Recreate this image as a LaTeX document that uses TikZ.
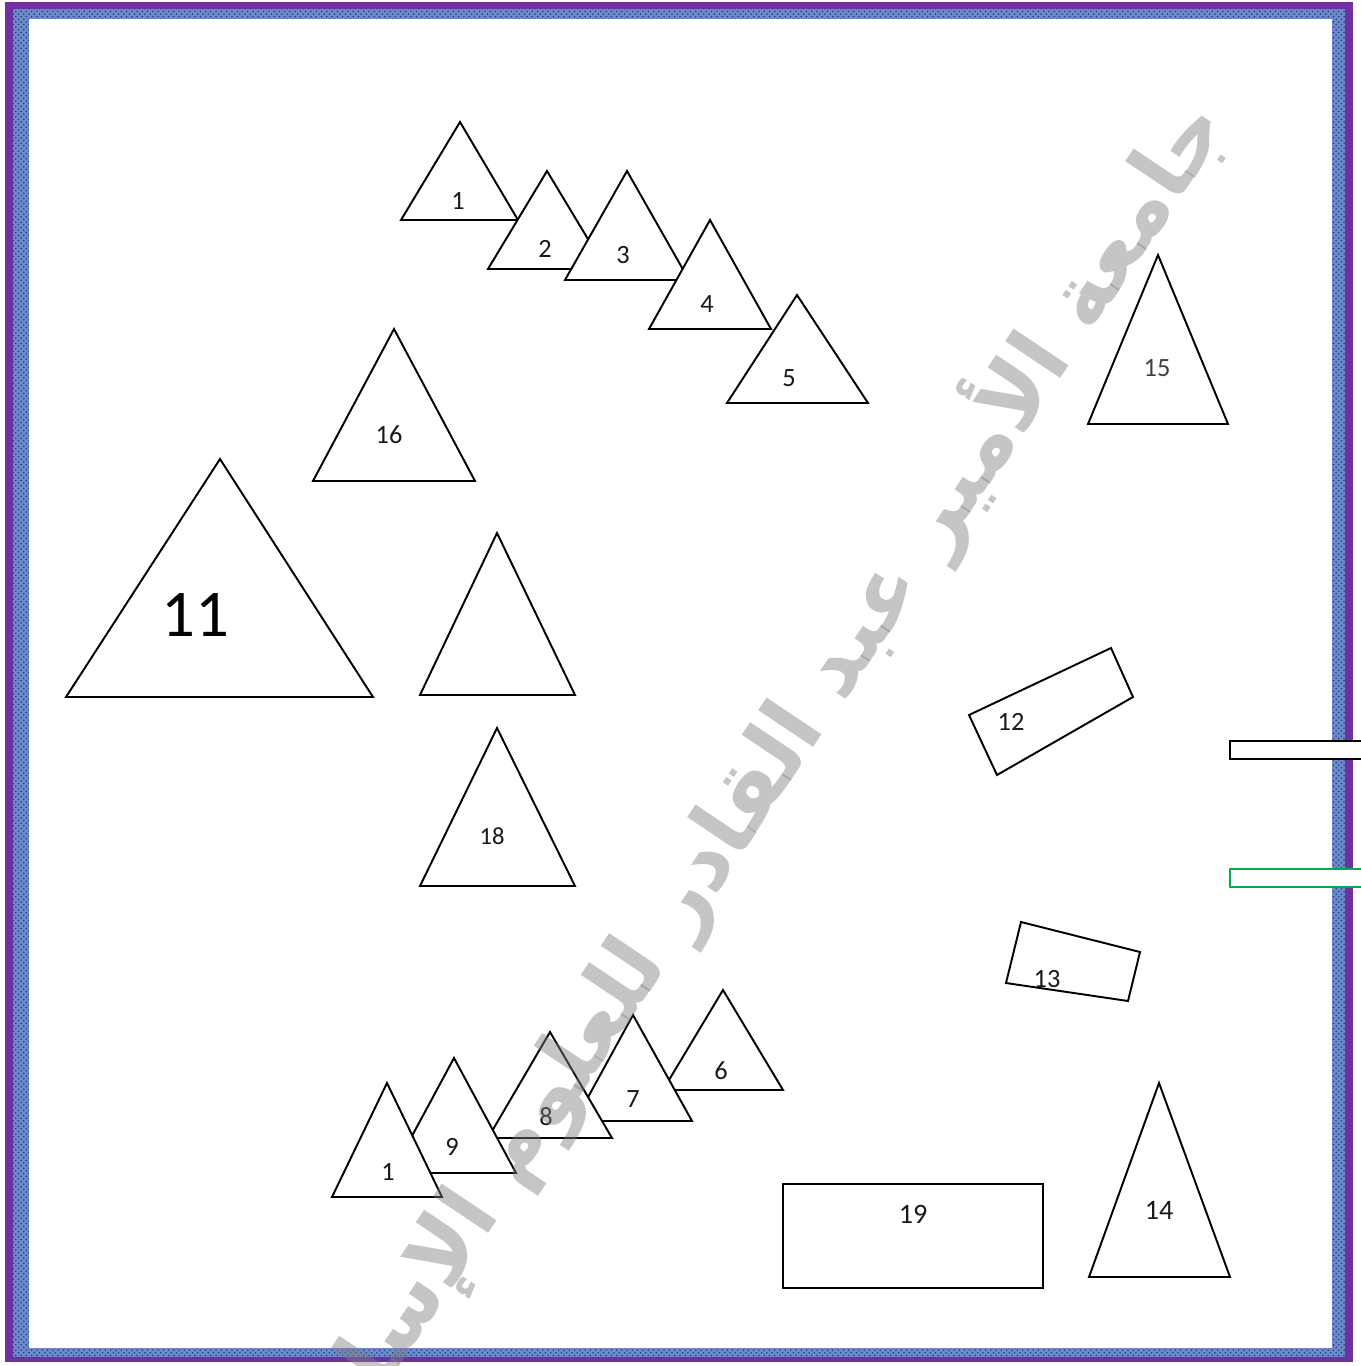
\documentclass[tikz,border=0pt]{standalone}
\usepackage{graphicx}
\usepackage{fontspec}
\setmainfont{Carlito}
\newfontfamily\arabicfont[Script=Arabic]{DejaVu Sans}
\TeXXeTstate=1
\usetikzlibrary{patterns}
\definecolor{framepurple}{RGB}{112,48,160}
\definecolor{frameblue}{RGB}{108,138,204}
\definecolor{framedark}{RGB}{36,58,125}
\definecolor{bargreen}{RGB}{0,176,80}
\tikzset{
  shp/.style={draw=black, fill=white, line width=1.1pt, line join=miter},
  lbl/.style={inner sep=0pt, font=\fontsize{15pt}{18pt}\selectfont, text=black!90},
  wmark/.style={inner sep=0pt, text=black!50, opacity=0.45}
}
\begin{document}
\begin{tikzpicture}[x=0.02cm,y=-0.02cm]
\useasboundingbox (0,0) rectangle (1360,1366);
% frame
\fill[framepurple] (5,2) rectangle (1353,1362);
\fill[frameblue] (13,9) rectangle (1345,1357);
\fill[pattern=crosshatch dots, pattern color=framedark] (13,9) rectangle (1345,1357);
\fill[white] (29,19) rectangle (1332,1348);

% top row triangles
\draw[shp] (460,122) -- (518,220) -- (401,220) -- cycle;
\node[lbl] (t1) at (458,201) {1};
\draw[shp] (547,171) -- (606,269) -- (488,269) -- cycle;
\node[lbl] (t2) at (545,249) {2};
\draw[shp] (627,171) -- (689,280) -- (565,280) -- cycle;
\node[lbl] (t3) at (623,255) {3};
\draw[shp] (710,220) -- (771,329) -- (649,329) -- cycle;
\node[lbl] (t4) at (707,304) {4};
\draw[shp] (797,295) -- (868,403) -- (727,403) -- cycle;
\node[lbl] (t5) at (789,378) {5};

% left triangles
\draw[shp] (394,329) -- (475,481) -- (313,481) -- cycle;
\node[lbl] (t16) at (389,435) {16};
\draw[shp] (220,459) -- (373,697) -- (66,697) -- cycle;
\node[lbl, font=\fontsize{38pt}{44pt}\selectfont, text=black] (t11) at (195,615) {11};
\draw[shp] (497,533) -- (575,695) -- (420,695) -- cycle;
\coordinate (t17) at (497,640);
\draw[shp] (497,728) -- (575,886) -- (420,886) -- cycle;
\node[lbl, font=\fontsize{14pt}{17pt}\selectfont] (t18) at (492,836) {18};

% right triangle 15
\draw[shp] (1158,255) -- (1228,424) -- (1088,424) -- cycle;
\node[lbl, text=black!75] (t15) at (1157,368) {15};

% rotated rectangles
\draw[shp] (969,715) -- (1111,648) -- (1133,697) -- (997,775) -- cycle;
\node[lbl] (r12) at (1011,722) {12};
\draw[shp] (1021,922) -- (1140,952) -- (1128,1001) -- (1006,983) -- cycle;
\node[lbl] (r13) at (1047,979) {13};

% bars at the right edge
\draw[shp] (1230,741) rectangle (1370,759);
\coordinate (barA) at (1230,750);
\draw[shp, draw=bargreen] (1230,869) rectangle (1370,887);
\coordinate (barB) at (1230,878);

% bottom row triangles
\draw[shp] (723,990) -- (783,1090) -- (663,1090) -- cycle;
\node[lbl] (b6) at (721,1071) {6};
\draw[shp] (633,1015) -- (692,1121) -- (575,1121) -- cycle;
\node[lbl] (b7) at (633,1099) {7};
\draw[shp] (550,1032) -- (612,1138) -- (488,1138) -- cycle;
\node[lbl] (b8) at (546,1117) {8};
\draw[shp] (454,1058) -- (516,1173) -- (392,1173) -- cycle;
\node[lbl] (b9) at (452,1147) {9};
\draw[shp] (387,1083) -- (442,1197) -- (332,1197) -- cycle;
\node[lbl] (b1) at (388,1172) {1};

% rectangle 19 and triangle 14
\draw[shp] (783,1184) rectangle (1043,1288);
\node[lbl, font=\fontsize{16pt}{19pt}\selectfont] (r19) at (913,1214) {19};
\draw[shp] (1159,1083) -- (1230,1277) -- (1089,1277) -- cycle;
\node[lbl, font=\fontsize{16pt}{19pt}\selectfont] (t14) at (1159,1210) {14};

% watermark
\begin{scope}
\clip (0,0) rectangle (1360,1366);
\node[wmark, rotate=56.2, anchor=east] (wm) at (1205,108)
  {\resizebox{34cm}{!}{\arabicfont\bfseries\beginR جامعة الأمير عبد القادر للعلوم الإسلامية\endR}};
\end{scope}
\end{tikzpicture}
\end{document}
